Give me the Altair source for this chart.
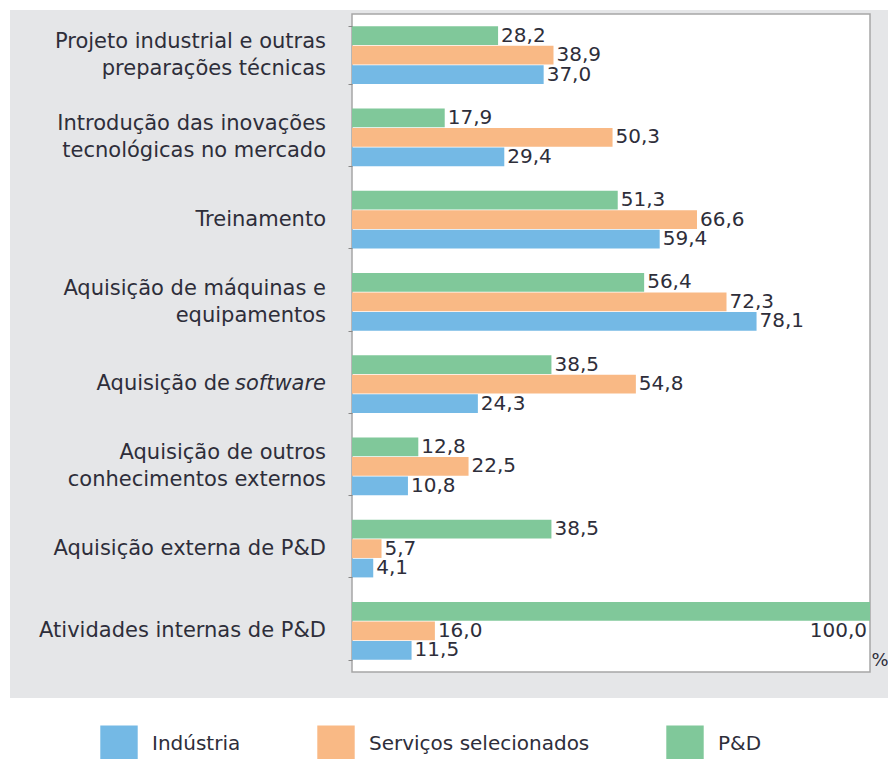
import altair as alt
import pandas as pd

categories = [
    "Projeto industrial e outras|preparações técnicas",
    "Introdução das inovações|tecnológicas no mercado",
    "Treinamento",
    "Aquisição de máquinas e|equipamentos",
    "Aquisição de software",
    "Aquisição de outros|conhecimentos externos",
    "Aquisição externa de P&D",
    "Atividades internas de P&D",
]
italic_word = "software"
series = ["Indústria", "Serviços selecionados", "P&D"]
industria = [37.0, 29.4, 59.4, 78.1, 24.3, 10.8, 4.1, 11.5]
servicos = [38.9, 50.3, 66.6, 72.3, 54.8, 22.5, 5.7, 16.0]
ped = [28.2, 17.9, 51.3, 56.4, 38.5, 12.8, 38.5, 100.0]
colors = ["#74b9e5", "#f9b985", "#80c89a"]

rows = []
for i, c in enumerate(categories):
    for s, vals in zip(series, [industria, servicos, ped]):
        rows.append({"cat": c, "serie": s, "v": vals[i]})
df = pd.DataFrame(rows)
cat_df = pd.DataFrame({"cat": categories})

W, H = 518, 658
FONT = "DejaVu Sans"
TXT = "#2e2e3a"

y_enc = alt.Y("cat:N", sort=categories,
              scale=alt.Scale(paddingInner=0.3, paddingOuter=0.15),
              axis=alt.Axis(title=None, labels=False, tickSize=4,
                            tickColor="#888888", tickBand="extent", domain=False,
                            zindex=1))
yoff = alt.YOffset("serie:N", sort=["P&D", "Serviços selecionados", "Indústria"],
                   scale=alt.Scale(paddingInner=0.04))
x_enc = alt.X("v:Q", scale=alt.Scale(domain=[0, 100], nice=False),
              axis=alt.Axis(title="%", labels=False, ticks=False, domain=False,
                            grid=False, titleX=519, titleY=-12, titleAlign="left",
                            titleBaseline="middle", titleFont=FONT, titleFontSize=18,
                            titleFontWeight="normal", titleColor=TXT, zindex=1))

one = pd.DataFrame({"a": [0]})
panel = alt.Chart(one).mark_rect(color="#e5e6e8").encode(
    x=alt.value(-342), x2=alt.value(540), y=alt.value(-4), y2=alt.value(684))
plotbg = alt.Chart(one).mark_rect(fill="white", stroke="#a6a6a6", strokeWidth=1.5).encode(
    x=alt.value(0), x2=alt.value(W), y=alt.value(0), y2=alt.value(H))

base = alt.Chart(df).transform_calculate(
    lab="replace(format(datum.v, '.1f'), '.', ',')")

bars = base.mark_bar().encode(
    y=y_enc, yOffset=yoff, x=x_enc,
    color=alt.Color("serie:N", sort=series,
                    scale=alt.Scale(domain=series, range=colors),
                    legend=alt.Legend(title=None, orient="none", legendX=-252, legendY=711,
                                      direction="horizontal", symbolType="square",
                                      symbolSize=1400, symbolStrokeWidth=0, symbolOpacity=1,
                                      labelFont=FONT, labelFontSize=20, labelColor=TXT,
                                      labelLimit=400, labelOffset=14, columnPadding=76)))

labels = base.transform_filter("datum.v < 100").mark_text(
    align="left", baseline="middle", dx=3, font=FONT, fontSize=20, color=TXT).encode(
    y=alt.Y("cat:N", sort=categories), yOffset=yoff, x="v:Q", text="lab:N")

labels_full = base.transform_filter("datum.v >= 100").mark_text(
    align="right", baseline="middle", dx=-3, dy=20, font=FONT, fontSize=20, color=TXT).encode(
    y=alt.Y("cat:N", sort=categories), yOffset=yoff, x="v:Q", text="lab:N")

IT = f"indexof(datum.cat, '{italic_word}') >= 0"
cat_base = alt.Chart(cat_df)
cat_one = cat_base.transform_filter(f"indexof(datum.cat, '|') < 0 && !({IT})").mark_text(
    align="right", baseline="middle", font=FONT, fontSize=21, color=TXT).encode(
    y=alt.Y("cat:N", sort=categories), x=alt.value(-26), text="cat:N")
cat_two = cat_base.transform_filter("indexof(datum.cat, '|') >= 0").mark_text(
    align="right", baseline="middle", font=FONT, fontSize=21, color=TXT,
    lineBreak="|", lineHeight=27, dy=-13).encode(
    y=alt.Y("cat:N", sort=categories), x=alt.value(-26), text="cat:N")
cat_it_a = cat_base.transform_filter(IT).transform_calculate(
    t=f"replace(datum.cat, ' {italic_word}', '')").mark_text(
    align="right", baseline="middle", font=FONT, fontSize=21, color=TXT, dx=-96).encode(
    y=alt.Y("cat:N", sort=categories), x=alt.value(-26), text="t:N")
cat_it_b = cat_base.transform_filter(IT).transform_calculate(
    t=f"'{italic_word}'").mark_text(
    align="right", baseline="middle", font=FONT, fontSize=21, color=TXT,
    fontStyle="italic").encode(
    y=alt.Y("cat:N", sort=categories), x=alt.value(-26), text="t:N")

chart = alt.layer(panel, plotbg, bars, labels, labels_full,
                  cat_one, cat_two, cat_it_a, cat_it_b).properties(
    width=W, height=H,
    padding={"left": 344, "top": 6, "right": 18, "bottom": 87},
    autosize=alt.AutoSizeParams(type="none"),
    background="white",
).configure_view(stroke=None)

chart.save("out.html", embed_options={"renderer": "svg", "actions": False})
